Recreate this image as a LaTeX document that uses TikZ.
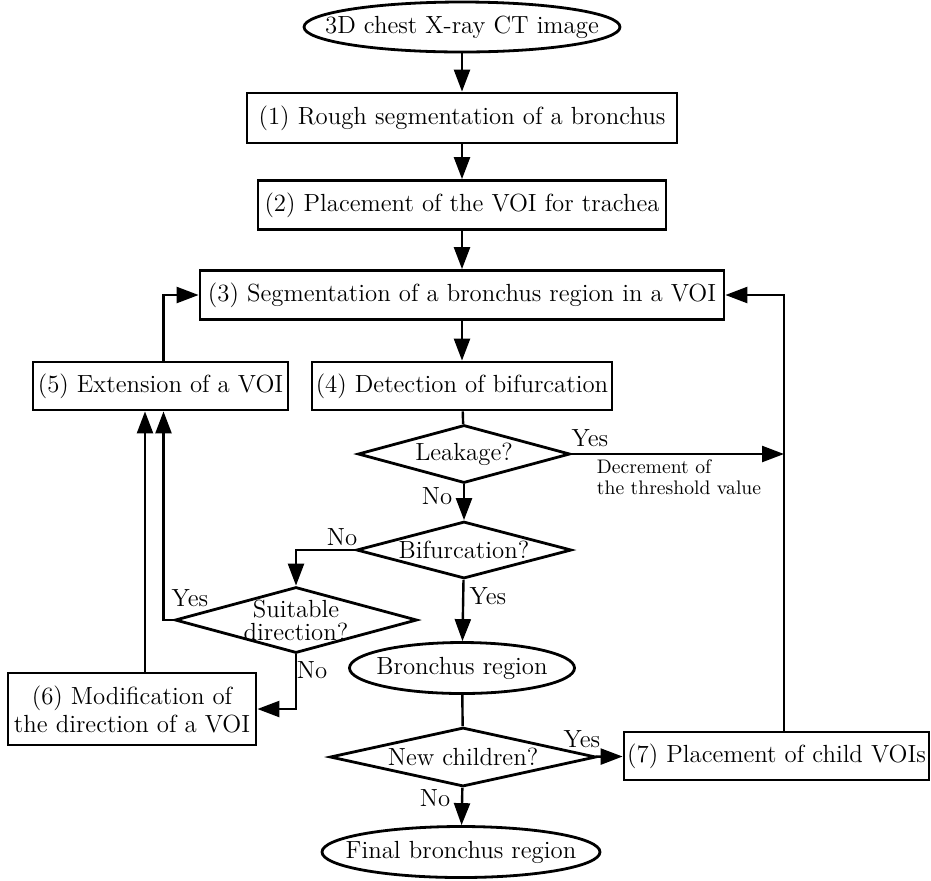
\documentclass[tikz,border=0pt]{standalone}
\usetikzlibrary{shapes.geometric,arrows.meta}

\begin{document}
\begin{tikzpicture}[x=0.5pt, y=-0.5pt,
        font=\fontsize{12.4}{14}\selectfont,
        line width=1.2pt,
        >={Triangle[length=11pt,width=8pt]},
        stepbox/.style={rectangle, draw, line width=1.4pt, inner sep=0pt},
        terminal/.style={ellipse, draw, line width=1.4pt, inner xsep=-20pt, inner ysep=0pt},
        decision/.style={diamond, draw, line width=1.4pt, inner sep=0pt, aspect=3.7},
        answer/.style={inner sep=0pt}]
        \useasboundingbox (0,0) rectangle (931,880);

        % Nodes
        \node[terminal, minimum width=158pt, minimum height=25pt] at (462, 27)  (ct)    {3D chest X-ray CT image};
        \node[stepbox, minimum width=215pt, minimum height=25pt] at (462, 118)  (rough)    {(1) Rough segmentation of a bronchus};
        \node[stepbox, minimum width=204pt, minimum height=24.5pt] at (462, 205)  (trachea)    {(2) Placement of the VOI for trachea};
        \node[stepbox, minimum width=262pt, minimum height=24.5pt] at (462, 295)  (seg)    {(3) Segmentation of a bronchus region in a VOI};
        \node[stepbox, minimum width=150pt, minimum height=24pt] at (462, 386)  (detect)    {(4) Detection of bifurcation};
        \node[stepbox, minimum width=127.5pt, minimum height=24pt] at (160.5, 386)  (extend)    {(5) Extension of a VOI};
        \node[decision, minimum width=106pt, minimum height=29pt] at (464, 454)  (leak)    {Leakage?};
        \node[decision, minimum width=107.5pt, minimum height=28.5pt] at (464, 550)  (bif)    {Bifurcation?};
        \node[decision, minimum width=121pt, minimum height=33pt, inner ysep=-7pt, align=center, font=\fontsize{12.4}{11.5}\selectfont] at (296, 620)  (suit)    {Suitable\\direction?};
        \node[stepbox, minimum width=124pt, minimum height=36pt, align=center] at (132, 709)  (modify)    {(6) Modification of\\the direction of a VOI};
        \node[terminal, minimum width=112.5pt, minimum height=25.5pt] at (462, 668)  (bron)    {Bronchus region};
        \node[decision, minimum width=133pt, minimum height=29.5pt] at (463, 757)  (child)    {New children?};
        \node[stepbox, minimum width=152.5pt, minimum height=24pt] at (776.5, 756)  (place)    {(7) Placement of child VOIs};
        \node[terminal, minimum width=139pt, minimum height=25.5pt] at (461, 852)  (final)    {Final bronchus region};
        \coordinate (thr) at (784, 454);

        % Labels
        \node[answer] at (590, 438)  (leakyes)    {Yes};
        \node[answer, align=left, font=\fontsize{9.8}{10.5}\selectfont] at (679, 477)  (dec)    {Decrement of\\the threshold value};
        \node[answer] at (437, 496)  (leakno)    {No};
        \node[answer] at (342, 537)  (bifno)    {No};
        \node[answer] at (488, 596)  (bifyes)    {Yes};
        \node[answer] at (190, 598)  (suityes)    {Yes};
        \node[answer] at (312, 670)  (suitno)    {No};
        \node[answer] at (582, 739)  (childyes)    {Yes};
        \node[answer] at (435, 798)  (childno)    {No};

        \draw[->]  (ct) -- (rough);
        \draw[->]  (rough) -- (trachea);
        \draw[->]  (trachea) -- (seg);
        \draw[->]  (seg) -- (detect);
        \draw      (detect) -- (leak);

        \draw[->]  (leak.east) -- (thr);
        \draw[->]  (place.north -| thr) |- (seg.east);
        \draw[->]  (leak) -- (bif);

        \draw[->]  (bif.west) -| (suit.north);
        \draw[->]  (bif) -- (bron);
        \draw[->]  (suit.west) -| ([xshift=1.5pt]extend.south);
        \draw[->]  (suit.south) |- (modify.east);
        \draw[->]  ([xshift=6.5pt]modify.north) -- ([xshift=6.5pt]modify.north |- extend.south);
        \draw[->]  ([xshift=1.5pt]extend.north) |- (seg.west);

        \draw      (bron) -- (child);
        \draw[->]  (child) -- (place);
        \draw[->]  (child) -- (final);
    \end{tikzpicture}
\end{document}
